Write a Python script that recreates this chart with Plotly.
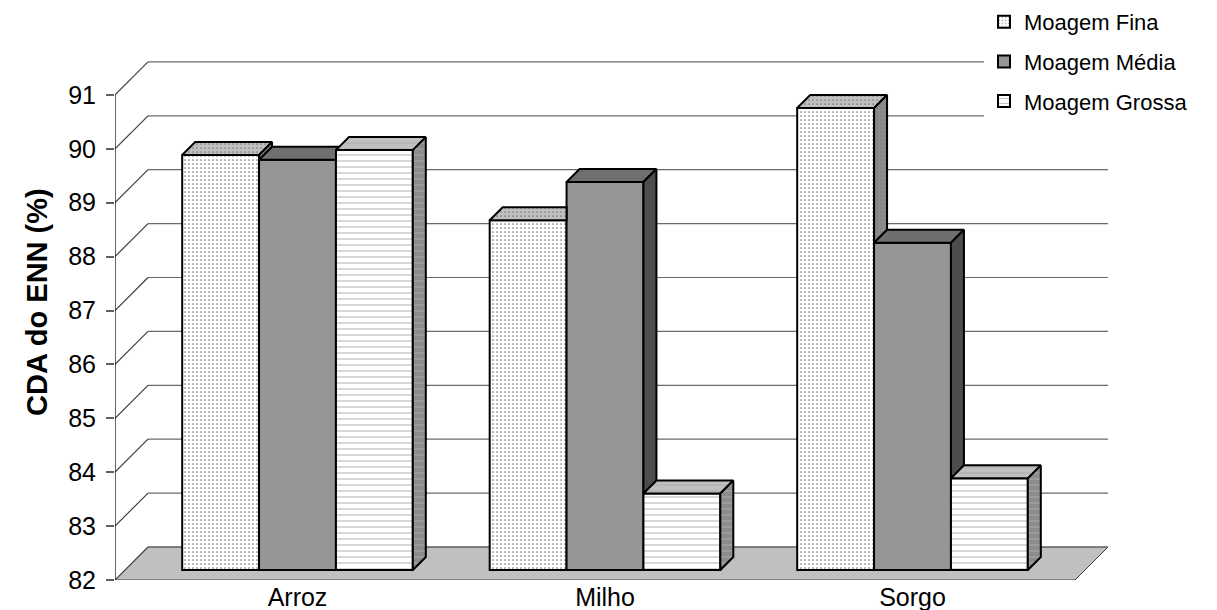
import plotly.graph_objects as go

# ---------------- data ----------------
categories = ["Arroz", "Milho", "Sorgo"]
series_names = ["Moagem Fina", "Moagem Média", "Moagem Grossa"]
fina = [89.70, 88.49, 90.57]
media = [89.61, 89.20, 88.07]
grossa = [89.79, 83.42, 83.70]
y_ticks = [82, 83, 84, 85, 86, 87, 88, 89, 90, 91]
y_title = "CDA do ENN (%)"

series_values = [fina, media, grossa]

# ---------------- geometry (pseudo-3D) ----------------
W, H = 1217, 610
ML, MR, MT, MB = 115, 105, 50, 30
PLOT_W = W - ML - MR
PLOT_H = H - MT - MB
PX_PER_X = 307.5          # pixels per category
PX_PER_Y = 53.9           # pixels per value unit
Y_MIN = y_ticks[0]
X_LO = -(297.5 - ML) / PX_PER_X
X_HI = X_LO + PLOT_W / PX_PER_X
Y_HI = Y_MIN + PLOT_H / PX_PER_Y
X_FLOOR_R = X_LO + 960 / PX_PER_X

DEPTH = 33                # full depth of the floor in px
BAR_FRONT = 10            # bar front plane depth in px
BAR_BACK = 23             # bar back plane depth in px
dxD, dyD = DEPTH / PX_PER_X, DEPTH / PX_PER_Y
fx, fy = BAR_FRONT / PX_PER_X, BAR_FRONT / PX_PER_Y
bdx, bdy = (BAR_BACK - BAR_FRONT) / PX_PER_X, (BAR_BACK - BAR_FRONT) / PX_PER_Y
slope = bdy / bdx

BARGAP = 0.25
N = len(series_names)
BW = (1 - BARGAP) / N

styles = [
    dict(front="white", top="#c0c0c0", side="#8c8c8c",
         pat=dict(shape=".", fgcolor="#7a7a7a", size=4, solidity=0.14)),
    dict(front="#969696", top="#6f6f6f", side="#4d4d4d", pat=None),
    dict(front="white", top="#c0c0c0", side="#8c8c8c",
         pat=dict(shape="-", fgcolor="#ababab", size=6, solidity=0.16)),
]

fig = go.Figure()

# front faces as bars
for k, (name, vals) in enumerate(zip(series_names, series_values)):
    st = styles[k]
    marker = dict(color=st["front"], line=dict(color="black", width=2))
    if st["pat"]:
        marker["pattern"] = dict(bgcolor=st["front"], fillmode="replace", **st["pat"])
    fig.add_trace(go.Bar(
        x=list(range(len(categories))),
        y=[v - Y_MIN for v in vals],
        base=Y_MIN + fy,
        name=name, marker=marker, legendgroup=name,
        hoverinfo="skip",
    ))


def poly(xs, ys, color, pat):
    tr = dict(x=xs + [xs[0]], y=ys + [ys[0]], mode="lines", fill="toself",
              fillcolor=color, line=dict(color="black", width=2),
              showlegend=False, hoverinfo="skip")
    if pat:
        tr["fillpattern"] = dict(bgcolor=color, fillmode="replace", **pat)
    fig.add_trace(go.Scatter(**tr))


# top and side faces, with occlusion by right neighbour
for i in range(len(categories)):
    for k in range(N):
        st = styles[k]
        v = series_values[k][i]
        x0 = i + (k - (N - 1) / 2) * BW - BW / 2
        x1 = x0 + BW
        yt = v + fy
        yb = Y_MIN + fy
        ytk = series_values[k + 1][i] + fy if k + 1 < N else None
        # top face
        if ytk is None or ytk <= yt:
            xs = [x0, x1, x1 + bdx, x0 + bdx]
            ys = [yt, yt, yt + bdy, yt + bdy]
        elif ytk < yt + bdy:
            xs = [x0, x1, x1, x1 + (yt + bdy - ytk) / slope, x0 + bdx]
            ys = [yt, yt, ytk, yt + bdy, yt + bdy]
        else:
            xs = [x0, x1, x1, x0 + bdx]
            ys = [yt, yt, yt + bdy, yt + bdy]
        poly(xs, ys, st["top"], st["pat"])
        # side face
        if ytk is None:
            poly([x1, x1, x1 + bdx, x1 + bdx], [yb, yt, yt + bdy, yb + bdy], st["side"], st["pat"])
        elif ytk < yt:
            poly([x1, x1, x1 + bdx, x1 + bdx], [ytk, yt, yt + bdy, ytk + bdy], st["side"], st["pat"])

# walls, floor, gridlines
shapes = []
shapes.append(dict(type="path", layer="below", xref="x", yref="y",
                   path=f"M{X_LO},{Y_MIN} L{X_FLOOR_R},{Y_MIN} L{X_FLOOR_R + dxD},{Y_MIN + dyD} "
                        f"L{X_LO + dxD},{Y_MIN + dyD} Z",
                   fillcolor="#c0c0c0", line=dict(color="#404040", width=1)))
for t in y_ticks:
    shapes.append(dict(type="line", layer="below", xref="x", yref="y",
                       x0=X_LO + dxD, x1=X_FLOOR_R + dxD, y0=t + dyD, y1=t + dyD,
                       line=dict(color="#6a6a6a", width=1.2)))
    shapes.append(dict(type="line", layer="below", xref="x", yref="y",
                       x0=X_LO, x1=X_LO + dxD, y0=t, y1=t + dyD,
                       line=dict(color="#404040", width=1.2)))
shapes.append(dict(type="line", layer="below", xref="x", yref="y",
                   x0=X_LO, x1=X_LO, y0=y_ticks[0], y1=y_ticks[-1],
                   line=dict(color="black", width=1.2)))

fig.update_layout(
    width=W, height=H,
    margin=dict(l=ML, r=MR, t=MT, b=MB, autoexpand=False),
    paper_bgcolor="white", plot_bgcolor="rgba(0,0,0,0)",
    barmode="group", bargap=BARGAP, bargroupgap=0,
    font=dict(family="Liberation Sans, Arial, sans-serif", color="black"),
    shapes=shapes,
    showlegend=True,
    legend=dict(x=(984 - ML) / PLOT_W, xanchor="left",
                y=(H - MB - 1) / PLOT_H, yanchor="top",
                font=dict(size=22), bgcolor="white", borderwidth=0,
                traceorder="grouped", tracegroupgap=8,
                itemsizing="constant"),
    annotations=[dict(text="<b>" + y_title + "</b>", textangle=-90,
                      xref="paper", yref="paper",
                      x=(37 - ML) / PLOT_W, y=(H - MB - 302) / PLOT_H,
                      xanchor="center", yanchor="middle", showarrow=False,
                      font=dict(size=29, color="black"))],
)
fig.update_xaxes(range=[X_LO, X_HI], tickvals=list(range(len(categories))),
                 ticktext=categories, showgrid=False, zeroline=False,
                 showline=False, ticks="", tickfont=dict(size=25),
                 automargin=False, fixedrange=True)
fig.update_yaxes(range=[Y_MIN, Y_HI], tickvals=y_ticks, showgrid=False,
                 zeroline=False, showline=False, ticks="outside", ticklen=8,
                 tickcolor="#606060", tickwidth=1.5, tickfont=dict(size=25),
                 ticklabelstandoff=5, automargin=False, fixedrange=True)

fig.write_html("out.html")
